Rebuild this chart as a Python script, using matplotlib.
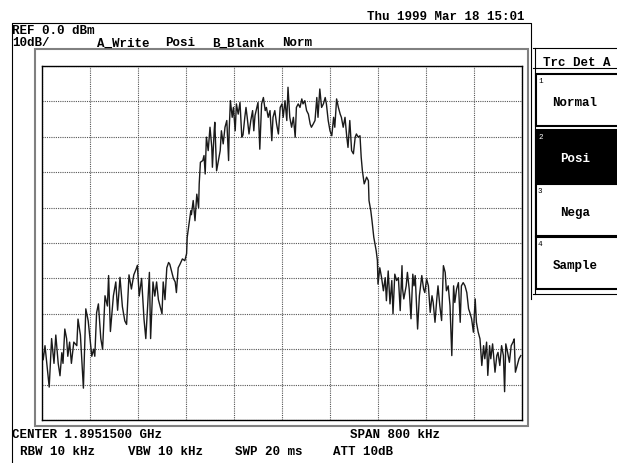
import matplotlib
matplotlib.use("Agg")
import matplotlib.pyplot as plt
from matplotlib.patches import Rectangle

# trace A (positive peak): offset from center (kHz) / level (dBm)
freq_offset_khz = [
    -400, -398, -395, -392, -388, -384, -380, -377, -373, -370, -367, -365, -362, -359, -357, -354,
    -351, -347, -342, -340, -336, -331, -327, -323, -320, -317, -314, -312, -309, -306, -302, -299,
    -295, -291, -289, -286, -281, -277, -274, -270, -266, -262, -259, -255, -251, -247, -243, -241,
    -238, -234, -230, -227, -224, -221, -219, -215, -212, -209, -206, -202, -200, -198, -195, -192,
    -189, -187, -184, -181, -178, -176, -173, -170, -166, -162, -159, -158, -155, -152, -151, -148,
    -145, -142, -139, -138, -136, -132, -130, -128, -126, -123, -120, -117, -116, -113, -112, -109,
    -106, -103, -101, -98, -95, -92, -89, -88, -86, -83, -81, -78, -76, -73, -70, -67,
    -65, -62, -60, -58, -55, -52, -49, -47, -45, -42, -40, -37, -34, -31, -28, -26,
    -23, -20, -17, -15, -12, -9, -6, -3, 0, 2, 5, 8, 10, 13, 16, 19,
    22, 24, 27, 30, 33, 35, 38, 41, 44, 47, 49, 52, 55, 58, 60, 63,
    66, 69, 72, 74, 77, 80, 83, 86, 88, 91, 94, 97, 99, 102, 105, 108,
    110, 113, 116, 119, 122, 124, 127, 130, 132, 134, 137, 139, 141, 144, 145, 148,
    150, 153, 157, 159, 160, 163, 166, 169, 172, 174, 177, 180, 183, 185, 188, 191,
    194, 197, 200, 201, 203, 207, 209, 212, 215, 218, 220, 222, 226, 229, 233, 236,
    238, 241, 244, 247, 250, 252, 255, 258, 260, 263, 266, 269, 272, 274, 277, 280,
    283, 286, 288, 291, 294, 297, 299, 302, 305, 308, 311, 313, 316, 319, 322, 324,
    327, 330, 333, 336, 338, 341, 343, 346, 348, 351, 355, 358, 360, 363, 366, 369,
    371, 373, 376, 379, 382, 385, 387, 389, 392, 395, 398,
]
level_dbm = [
    -80, -83, -79, -84, -90.7, -77, -84, -76, -84, -87.5, -81, -84, -74.3, -77, -82, -78,
    -84, -78, -79, -71.5, -76, -91, -68.6, -72, -77, -82, -80, -82, -69.7, -67.2, -77, -80,
    -64.9, -67.8, -59.2, -75, -64.9, -61, -69, -59.7, -68, -72, -73, -59, -63, -59, -57.3, -56.3,
    -65, -60, -71.5, -77, -68, -58.3, -77, -61, -65, -61, -66, -68.6, -70, -61, -66, -57,
    -55.5, -56, -58, -60, -61, -64, -57, -56, -54.5, -55, -53, -48.4, -44.6, -40.9, -42, -38,
    -43.7, -36.2, -40, -33.3, -27.2, -26.7, -25.3, -30.5, -20.1, -23.9, -17.3, -23, -28.6, -18.3, -15.9, -29.6,
    -26.7, -23.9, -18.3, -22, -17.3, -15.4, -26.7, -18, -9.8, -14.5, -11.7, -18.3, -10.7, -13.6, -10.3, -20.1,
    -19.5, -14.5, -11.7, -14.5, -19.2, -15.4, -12.6, -18.3, -14, -11.7, -10.3, -23.5, -10.7, -8.9, -12.6, -11.7,
    -14.5, -12.6, -21.1, -14.5, -12.6, -16.4, -19.2, -11.7, -10.7, -14.5, -9.8, -15.4, -6, -14.5, -17.3, -14.5,
    -20.1, -11.7, -10.7, -11.7, -9.3, -10.7, -9.8, -12.6, -13.6, -16.4, -17.3, -16.4, -15.4, -8.9, -14.5, -6.5,
    -11.7, -10.7, -8.9, -10.7, -15.4, -18.3, -19.7, -14.5, -17.3, -9.3, -11.7, -13.6, -14.5, -17.3, -14.5, -20.1,
    -23, -15.4, -23.9, -24.8, -20.1, -19.2, -20.1, -19.7, -25.8, -29.6, -33.3, -32.4, -31.4, -32.4, -38, -40.9,
    -43.7, -48.4, -52.2, -55, -61.6, -57, -59.8, -63.5, -59.8, -66.3, -57.9, -67.2, -60.6, -70, -58.8, -60.6,
    -59.8, -69.1, -56.4, -63, -65.8, -62.1, -58.3, -63, -71.4, -58.8, -62.1, -59.2, -74.3, -64.9, -59.2, -63,
    -64, -60.2, -62.1, -69.6, -64.9, -66.8, -72.4, -65.8, -62.1, -67.7, -71.9, -56.4, -58.3, -63.5, -62.1, -67.7,
    -81.8, -62.1, -66.8, -63, -61.2, -72.4, -62.1, -61.2, -62.1, -64, -68.6, -69.6, -71.4, -75.2, -65.8, -72.4,
    -75.2, -77.1, -84.6, -79, -82.7, -78, -87.4, -79, -82.7, -78.5, -86.5, -81.8, -80.9, -84.6, -79, -81.8,
    -92, -78.5, -80.9, -83.7, -79, -78, -77.1, -86.5, -84.6, -82.7, -81.8,
]

center_text = "CENTER 1.8951500 GHz"
span_text = "SPAN 800 kHz"
span_khz = 800
ref_dbm = 0.0
db_per_div = 10
n_div = 10
timestamp = "Thu 1999 Mar 18 15:01"
trace_labels = ["A_Write", "Posi", "B_Blank", "Norm"]
det_labels = ["Normal", "Posi", "Nega", "Sample"]
det_selected = 1
bottom_labels = ["RBW 10 kHz", "VBW 10 kHz", "SWP 20 ms", "ATT 10dB"]

W, H = 617, 464
fig = plt.figure(figsize=(W / 100, H / 100), dpi=100)

# full-figure layer in pixel coordinates for the screen furniture
bg = fig.add_axes([0, 0, 1, 1])
bg.set_xlim(0, W)
bg.set_ylim(H, 0)
bg.axis("off")

mono = dict(family="Liberation Mono", fontsize=9, color="black", weight="bold", va="baseline")

# screen frame
bg.plot([12, 12, 531, 531], [463, 24, 24, 300], color="black", lw=0.8)
# gray frame round the graticule
bg.add_patch(Rectangle((35, 50), 493, 377, fill=False, ec="#808080", lw=1.5))

bg.text(367, 19.5, timestamp, **mono)
bg.text(12.5, 33.5, f"REF {ref_dbm:.1f} dBm", **mono)
bg.text(12.5, 46.5, f"{db_per_div}dB/", **mono)
for x, s in zip([97, 165, 212, 282], trace_labels):
    bg.text(x, 46.5, s, **mono)

bg.text(12, 438, center_text, **mono)
bg.text(350, 438, span_text, **mono)
for x, s in zip([20, 128, 235, 333], bottom_labels):
    bg.text(x, 455, s, **mono)

# soft-key panel
bg.plot([533, 617], [49, 49], color="black", lw=0.8)
bg.plot([534.5, 534.5], [49, 295], color="black", lw=0.8)
bg.plot([533, 617], [69, 69], color="black", lw=0.8)
bg.plot([533, 617], [295, 295], color="black", lw=0.8)
bg.text(543, 65.5, "Trc Det A", **mono)
box_tops = [75, 131, 185, 238]
for i, (top, s) in enumerate(zip(box_tops, det_labels)):
    sel = i == det_selected
    bg.add_patch(Rectangle((536, top), 90, 52, fc="black" if sel else "white",
                           ec="black", lw=1.5))
    fg = "white" if sel else "black"
    bg.text(538, top + 8, str(i + 1), fontsize=5.5, family="Liberation Mono", color=fg)
    bg.text(575, top + 31, s, ha="center", family="Liberation Mono", fontsize=9,
            weight="bold", color=fg)

# graticule with the trace
ax = fig.add_axes([42 / W, 1 - 421 / H, 480 / W, 354 / H])
ax.set_xlim(-span_khz / 2, span_khz / 2)
ax.set_ylim(ref_dbm - n_div * db_per_div, ref_dbm)
ax.set_xticks([-span_khz / 2 + k * span_khz / n_div for k in range(n_div + 1)])
ax.set_yticks([ref_dbm - k * db_per_div for k in range(n_div + 1)])
ax.tick_params(length=0, labelbottom=False, labelleft=False)
ax.grid(True, color="#555555", lw=0.8, linestyle=(0, (1, 1)))
for sp in ax.spines.values():
    sp.set_color("black")
    sp.set_linewidth(1.0)
ax.plot(freq_offset_khz, level_dbm, color="#1a1a1a", lw=1.0)

fig.savefig("out.png", dpi=100)
